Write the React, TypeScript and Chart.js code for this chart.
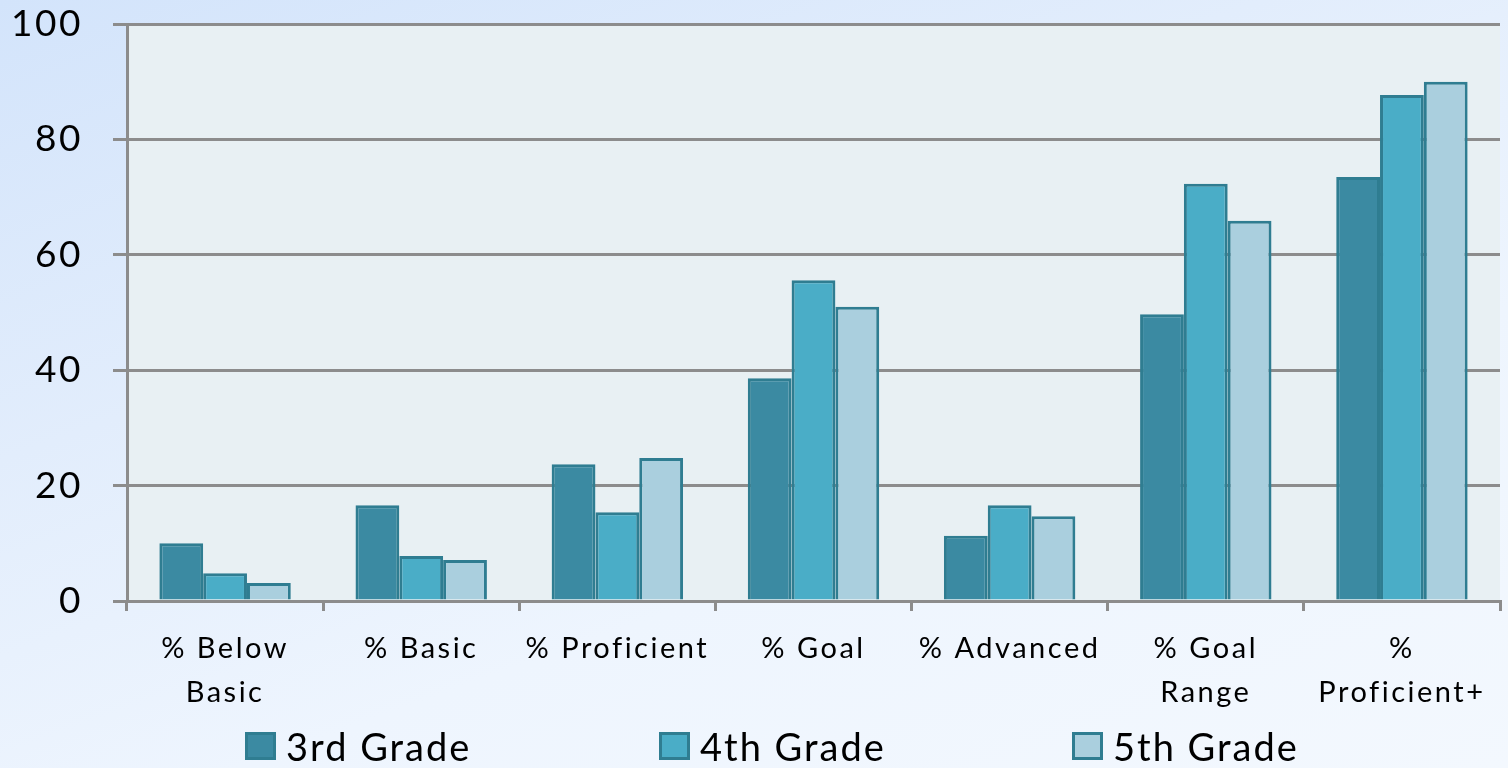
import React, { useEffect, useRef } from "react";
import { Chart, registerables } from "chart.js";

Chart.register(...registerables);

const categories: (string | string[])[] = [
  ["% Below", "Basic"],
  "% Basic",
  "% Proficient",
  "% Goal",
  "% Advanced",
  ["% Goal", "Range"],
  ["%", "Proficient+"],
];

const seriesNames = ["3rd Grade", "4th Grade", "5th Grade"];
const grade3 = [10, 16.6, 23.7, 38.6, 11.3, 49.7, 73.5];
const grade4 = [4.8, 7.8, 15.4, 55.6, 16.6, 72.3, 87.7];
const grade5 = [3.1, 7.1, 24.8, 51.0, 14.7, 65.9, 90.0];
const yTicks = [0, 20, 40, 60, 80, 100];

const fills = ["#3B8AA2", "#4AADC7", "#AACFDE"];
const borderColor = "#2F7D91";
const FONT = "Lato, 'Open Sans', sans-serif";
const legendLefts = [245, 659, 1072];

const plotBg = {
  id: "plotBg",
  beforeInit(chart: any) {
    chart.ctx.letterSpacing = "2.5px";
  },
  beforeUpdate(chart: any) {
    chart.ctx.letterSpacing = "2.5px";
  },
  beforeDraw(chart: any) {
    const { ctx, chartArea } = chart;
    ctx.letterSpacing = "2.5px";
    ctx.save();
    ctx.fillStyle = "#E8F0F3";
    ctx.fillRect(chartArea.left, chartArea.top, chartArea.right - chartArea.left, chartArea.bottom - chartArea.top);
    ctx.restore();
  },
};

export default function App() {
  const ref = useRef<HTMLCanvasElement | null>(null);

  useEffect(() => {
    document.body.style.margin = "0";
    const canvas = ref.current;
    if (!canvas) return;
    const data = [grade3, grade4, grade5];
    const chart = new Chart(canvas, {
      type: "bar",
      data: {
        labels: categories,
        datasets: seriesNames.map((name, i) => ({
          label: name,
          data: data[i],
          backgroundColor: fills[i],
          borderColor: borderColor,
          borderWidth: 3,
          categoryPercentage: 0.67,
          barPercentage: 1.0,
        })),
      },
      options: {
        animation: false,
        responsive: false,
        maintainAspectRatio: false,
        layout: { padding: { top: 0, right: 8, left: 0, bottom: 45 } },
        plugins: {
          tooltip: { enabled: false },
          legend: { display: false },
        },
        scales: {
          x: {
            grid: {
              drawOnChartArea: false,
              drawTicks: true,
              tickLength: 10,
              color: "#8C8C8C",
              lineWidth: 3,
              offset: true,
            },
            border: { color: "#8C8C8C", width: 3 },
            ticks: {
              color: "#000",
              font: { family: FONT, size: 29, lineHeight: 1.5 },
              maxRotation: 0,
              autoSkip: false,
              padding: 16,
            },
            afterFit(scale: any) {
              scale.height = 122;
            },
          },
          y: {
            min: 0,
            max: 100,
            afterBuildTicks(scale: any) {
              scale.ticks = yTicks.map((v) => ({ value: v }));
            },
            grid: {
              color: "#8C8C8C",
              lineWidth: 3,
              tickLength: 14,
            },
            border: { color: "#8C8C8C", width: 3 },
            ticks: {
              color: "#000",
              font: { family: FONT, size: 37 },
              padding: 30,
            },
            afterFit(scale: any) {
              scale.width = 127;
              scale.paddingTop = 24;
              scale.paddingBottom = 10;
            },
          },
        },
      },
      plugins: [plotBg],
    });
    return () => chart.destroy();
  }, []);

  return (
    <div
      style={{
        width: 1508,
        height: 768,
        position: "relative",
        overflow: "hidden",
        background: "linear-gradient(160deg, #D3E4FB 0%, #E2EDFC 35%, #EEF5FE 65%, #F3F8FE 100%)",
      }}
    >
      <canvas ref={ref} width={1508} height={768} style={{ display: "block" }} />
      {seriesNames.map((name, i) => (
        <div
          key={name}
          style={{
            position: "absolute",
            left: legendLefts[i],
            top: 724,
            height: 44,
            display: "flex",
            alignItems: "center",
            fontFamily: FONT,
            fontSize: 38,
            letterSpacing: "2px",
            color: "#000",
            whiteSpace: "nowrap",
          }}
        >
          <span
            style={{
              display: "inline-block",
              width: 25,
              height: 22,
              background: fills[i],
              border: `3px solid ${borderColor}`,
              marginRight: 10,
            }}
          />
          {name}
        </div>
      ))}
    </div>
  );
}
